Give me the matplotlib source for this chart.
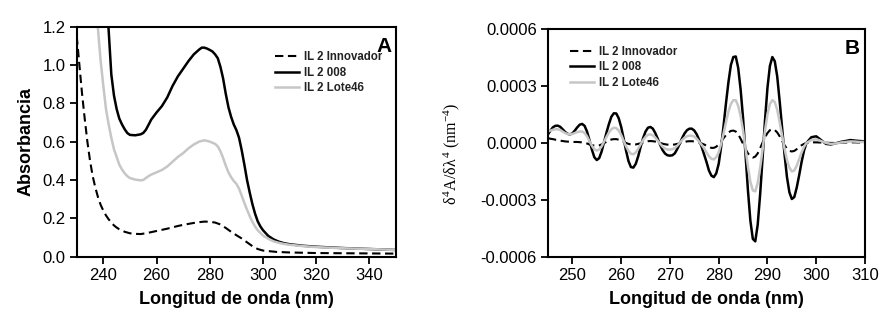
import numpy as np
import matplotlib
matplotlib.use("Agg")
import matplotlib.pyplot as plt

plt.rcParams['font.family'] = ['Liberation Sans', 'DejaVu Sans']
plt.rcParams['mathtext.fontset'] = 'custom'
plt.rcParams['mathtext.rm'] = 'Liberation Serif'
plt.rcParams['mathtext.it'] = 'Liberation Serif'
plt.rcParams['mathtext.bf'] = 'Liberation Serif:bold'

labels = ["IL 2 Innovador", "IL 2 008", "IL 2 Lote46"]

# ---- Panel A: absorbance spectra ----
wl_innov_A = [230, 231, 232, 233, 234, 235, 236, 237, 238, 239, 240, 241, 242, 243, 244, 245,
              246, 248, 250, 252, 254, 256, 258, 260, 262, 264, 266, 268, 270, 272, 274, 276,
              278, 280, 282, 284, 286, 288, 290, 292, 294, 296, 298, 300, 305, 310, 320, 330, 340, 350]
abs_innov = [1.15, 1.0, 0.85, 0.72, 0.6, 0.5, 0.42, 0.36, 0.31, 0.27, 0.24, 0.215, 0.195, 0.178, 0.163, 0.152,
             0.143, 0.13, 0.122, 0.119, 0.118, 0.122, 0.128, 0.134, 0.14, 0.146, 0.153, 0.16, 0.166, 0.171, 0.176, 0.18,
             0.183, 0.182, 0.178, 0.168, 0.15, 0.13, 0.112, 0.095, 0.075, 0.055, 0.04, 0.032, 0.025, 0.022, 0.019, 0.018, 0.017, 0.016]

wl_008_A = [241.5, 242, 243, 244, 245, 246, 247, 248, 249, 250,
            252, 254, 255, 256, 257, 258, 260, 262, 264, 266,
            268, 270, 272, 274, 276, 277, 278, 279, 280, 281,
            282, 283, 284, 285, 286, 287, 288, 289, 290, 291,
            292, 293, 294, 295, 296, 297, 298, 299, 300, 302,
            304, 306, 308, 310, 315, 320, 330, 340, 350]
abs_008 = [1.3, 1.18, 0.95, 0.84, 0.77, 0.72, 0.69, 0.665, 0.645, 0.635,
           0.633, 0.638, 0.645, 0.662, 0.688, 0.715, 0.752, 0.785, 0.83, 0.89,
           0.94, 0.98, 1.02, 1.055, 1.08, 1.09, 1.09, 1.085, 1.078, 1.07,
           1.055, 1.035, 0.99, 0.93, 0.85, 0.78, 0.73, 0.69, 0.66, 0.62,
           0.555, 0.48, 0.4, 0.335, 0.275, 0.225, 0.185, 0.158, 0.138, 0.108,
           0.09, 0.078, 0.07, 0.065, 0.057, 0.052, 0.045, 0.04, 0.035]

wl_lote_A = [237.8, 238.5, 239, 240, 241, 242, 243, 244, 245, 246,
             247, 248, 249, 250, 252, 254, 255, 256, 257, 258,
             260, 262, 264, 266, 268, 270, 272, 274, 276, 278,
             280, 282, 283, 284, 285, 286, 287, 288, 289, 290,
             291, 292, 293, 294, 295, 296, 297, 298, 300, 302,
             304, 306, 308, 310, 315, 320, 330, 340, 350]
abs_lote = [1.22, 1.1, 1.02, 0.89, 0.77, 0.69, 0.62, 0.56, 0.52, 0.48,
            0.455, 0.435, 0.42, 0.41, 0.402, 0.398, 0.40, 0.41, 0.42, 0.428,
            0.44, 0.452, 0.47, 0.495, 0.52, 0.54, 0.565, 0.585, 0.6, 0.607,
            0.6, 0.588, 0.575, 0.55, 0.515, 0.475, 0.44, 0.415, 0.395, 0.38,
            0.355, 0.318, 0.28, 0.245, 0.212, 0.182, 0.158, 0.138, 0.11, 0.093,
            0.08, 0.072, 0.066, 0.062, 0.055, 0.05, 0.044, 0.04, 0.035]

# ---- Panel B: 4th derivative (values x 1e-4) ----
wl_B = [245 + 0.5 * i for i in range(106)] + list(range(298, 311))

d4_008 = [0.45, 0.65, 0.82, 0.9, 0.91, 0.85, 0.72, 0.58, 0.48, 0.45,
          0.5, 0.65, 0.82, 0.96, 1.0, 0.9, 0.6, 0.15, -0.35, -0.75,
          -0.9, -0.8, -0.45, 0.05, 0.55, 1.0, 1.38, 1.56, 1.55, 1.3,
          0.85, 0.25, -0.4, -0.95, -1.27, -1.3, -1.1, -0.7, -0.2, 0.25,
          0.6, 0.8, 0.84, 0.75, 0.52, 0.22, -0.1, -0.38, -0.56, -0.65,
          -0.67, -0.65, -0.55, -0.32, -0.05, 0.25, 0.5, 0.67, 0.75, 0.75,
          0.65, 0.45, 0.15, -0.2, -0.6,
          -1.0, -1.45, -1.72, -1.8, -1.6, -1.1, -0.2, 0.9, 2.1, 3.2,
          4.1, 4.52, 4.55, 3.95, 2.8, 1.3, -0.6, -2.5, -4.1, -5.05,
          -5.18, -4.3, -2.7, -0.8, 1.2, 2.9, 4.05, 4.52, 4.3, 3.5,
          2.2, 0.8, -0.6, -1.8, -2.6, -2.95, -2.85, -2.35, -1.7, -1.0,
          -0.4,
          0.0, 0.3, 0.35, 0.15, -0.05, -0.08, -0.02, 0.05, 0.1, 0.15, 0.12, 0.1, 0.08]

d4_lote = [0.6, 0.65, 0.69, 0.72, 0.72, 0.68, 0.6, 0.52, 0.47, 0.45,
           0.47, 0.52, 0.57, 0.6, 0.6, 0.52, 0.35, 0.1, -0.15, -0.33,
           -0.4, -0.35, -0.18, 0.07, 0.32, 0.55, 0.72, 0.8, 0.78, 0.65,
           0.42, 0.12, -0.18, -0.42, -0.57, -0.6, -0.5, -0.3, -0.07, 0.15,
           0.32, 0.43, 0.45, 0.4, 0.28, 0.12, -0.05, -0.2, -0.3, -0.35,
           -0.35, -0.33, -0.27, -0.15, 0.0, 0.15, 0.27, 0.35, 0.38, 0.38,
           0.33, 0.22, 0.06, -0.1, -0.28,
           -0.5, -0.7, -0.83, -0.87, -0.75, -0.5, -0.05, 0.5, 1.1, 1.65,
           2.05, 2.25, 2.25, 1.95, 1.4, 0.65, -0.3, -1.25, -2.05, -2.5,
           -2.55, -2.1, -1.3, -0.35, 0.65, 1.5, 2.05, 2.25, 2.15, 1.75,
           1.1, 0.4, -0.3, -0.9, -1.3, -1.5, -1.45, -1.2, -0.85, -0.5,
           -0.2,
           0.0, 0.15, 0.2, 0.1, 0.0, -0.05, -0.03, 0.02, 0.05, 0.08, 0.07, 0.05, 0.05]

d4_innov = [0.25, 0.22, 0.2, 0.17, 0.15, 0.12, 0.1, 0.08, 0.07, 0.06,
            0.05, 0.05, 0.05, 0.04, 0.03, 0.0, -0.03, -0.08, -0.12, -0.14,
            -0.15, -0.13, -0.08, -0.01, 0.06, 0.13, 0.18, 0.2, 0.2, 0.17,
            0.12, 0.06, 0.0, -0.05, -0.08, -0.09, -0.08, -0.05, -0.02, 0.02,
            0.06, 0.09, 0.1, 0.09, 0.07, 0.03, 0.0, -0.04, -0.07, -0.09,
            -0.1, -0.1, -0.08, -0.05, -0.02, 0.02, 0.05, 0.08, 0.09, 0.09,
            0.08, 0.05, 0.02, -0.03, -0.08,
            -0.15, -0.22, -0.26, -0.26, -0.2, -0.08, 0.07, 0.25, 0.42, 0.55,
            0.63, 0.65, 0.6, 0.45, 0.22, -0.05, -0.32, -0.55, -0.7, -0.77,
            -0.72, -0.55, -0.28, 0.02, 0.3, 0.52, 0.67, 0.72, 0.68, 0.55,
            0.35, 0.1, -0.12, -0.3, -0.42, -0.45, -0.42, -0.33, -0.22, -0.12,
            -0.05,
            0.0, 0.03, 0.03, 0.02, 0.01, 0.0, 0.0, 0.01, 0.02, 0.03, 0.03, 0.02, 0.02]

xticks_A = [240, 260, 280, 300, 320, 340]
yticks_A = [0.0, 0.2, 0.4, 0.6, 0.8, 1.0, 1.2]
xticks_B = [250, 260, 270, 280, 290, 300, 310]
yticks_B = [-0.0006, -0.0003, 0.0, 0.0003, 0.0006]

GRAY = '#c6c6c6'
styles = [dict(color='black', lw=1.5, ls=(0, (4, 2.2))),
          dict(color='black', lw=1.8, ls='-'),
          dict(color=GRAY, lw=1.8, ls='-')]

fig = plt.figure(figsize=(8.87, 3.23), dpi=100)
axA = fig.add_axes([0.0865, 0.2053, 0.3600, 0.7125])
axB = fig.add_axes([0.6178, 0.2045, 0.3574, 0.7060])

def style_axes(ax):
    for s in ax.spines.values():
        s.set_linewidth(1.5)
    ax.tick_params(direction='out', length=5, width=1.3, labelsize=12, pad=3)

leg_kw = dict(loc='upper left', frameon=False, prop=dict(size=8.3, weight='bold'),
              handlelength=2.1, handletextpad=0.4, labelspacing=0.3,
              borderpad=0, borderaxespad=0)

# Panel A
axA.plot(wl_innov_A, abs_innov, label=labels[0], **styles[0])
axA.plot(wl_008_A, abs_008, label=labels[1], **styles[1])
axA.plot(wl_lote_A, abs_lote, label=labels[2], **styles[2])
axA.set_xlim(230, 350)
axA.set_ylim(0, 1.2)
axA.set_xticks(xticks_A)
axA.set_yticks(yticks_A)
axA.yaxis.set_major_formatter(matplotlib.ticker.FormatStrFormatter('%.1f'))
style_axes(axA)
axA.set_xlabel('Longitud de onda (nm)', fontsize=13, fontweight='bold', labelpad=6)
axA.set_ylabel('Absorbancia', fontsize=13, fontweight='bold', labelpad=6)
axA.text(0.985, 0.955, 'A', transform=axA.transAxes, ha='right', va='top',
         fontsize=15, fontweight='bold')
legA = axA.legend(bbox_to_anchor=(0.62, 0.893), **leg_kw)
for t in legA.get_texts():
    t.set_color('#222222')

# Panel B
axB.plot(wl_B, np.array(d4_innov) * 1e-4, label=labels[0], **styles[0])
axB.plot(wl_B, np.array(d4_008) * 1e-4, label=labels[1], **styles[1])
axB.plot(wl_B, np.array(d4_lote) * 1e-4, label=labels[2], **styles[2])
axB.set_xlim(245, 310)
axB.set_ylim(-0.0006, 0.0006)
axB.set_xticks(xticks_B)
axB.set_yticks(yticks_B)
axB.yaxis.set_major_formatter(matplotlib.ticker.FormatStrFormatter('%.4f'))
style_axes(axB)
axB.set_xlabel('Longitud de onda (nm)', fontsize=13, fontweight='bold', labelpad=6)
axB.set_ylabel(r'$\delta^4$A/$\delta\lambda^4$ (nm$^{-4}$)', fontsize=11.5,
               family=['Liberation Serif', 'DejaVu Serif'])
axB.yaxis.set_label_coords(-0.272, 0.45)
axB.text(0.985, 0.955, 'B', transform=axB.transAxes, ha='right', va='top',
         fontsize=15, fontweight='bold')
legB = axB.legend(bbox_to_anchor=(0.07, 0.925), **leg_kw)
for t in legB.get_texts():
    t.set_color('#222222')

fig.savefig('out.png', dpi=100)
